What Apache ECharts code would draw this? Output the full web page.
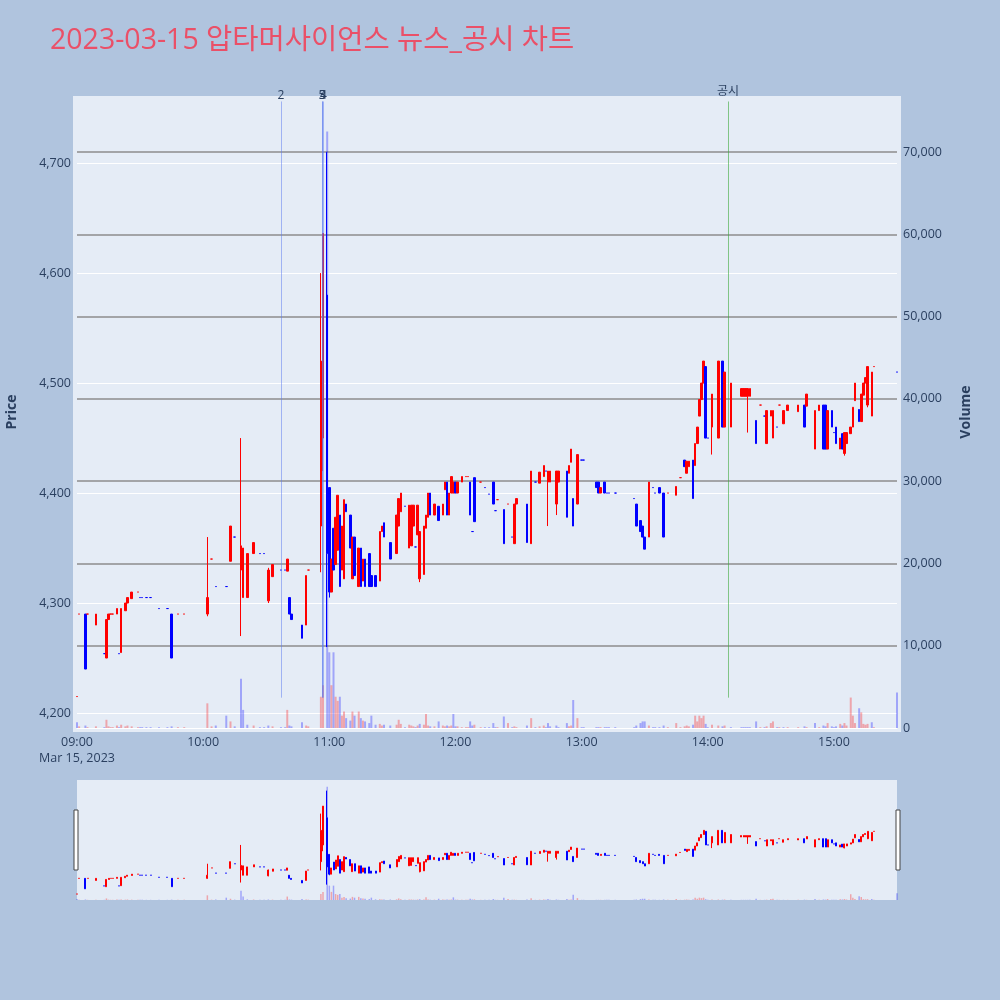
<!DOCTYPE html>
<html><head><meta charset="utf-8">
<script src="https://cdn.jsdelivr.net/npm/echarts@6/dist/echarts.min.js"></script>
<style>html,body{margin:0;padding:0;background:#B0C4DE}#c{width:1000px;height:1000px}</style>
</head><body><div id="c"></div>
<script>
const titleText = '2023-03-15 압타머사이언스 뉴스_공시 차트';
const dateLabel = 'Mar 15, 2023';

const times = [
'09:00','09:01','09:04','09:05','09:09','09:13','09:14','09:15','09:16','09:17',
'09:19','09:20','09:21','09:23','09:24','09:26','09:29','09:30','09:31','09:33',
'09:35','09:39','09:43','09:45','09:48','09:51','10:02','10:04','10:06','10:11',
'10:13','10:15','10:18','10:19','10:21','10:24','10:27','10:29','10:31','10:33',
'10:37','10:39','10:40','10:41','10:42','10:47','10:49','10:50','10:56','10:57',
'10:59','11:00','11:01','11:02','11:03','11:04','11:05','11:06','11:07','11:08',
'11:10','11:11','11:12','11:14','11:15','11:16','11:17','11:19','11:20','11:22',
'11:24','11:25','11:26','11:29','11:32','11:33','11:34','11:36','11:38','11:39',
'11:40','11:41','11:42','11:43','11:45','11:46','11:47','11:48','11:50','11:52',
'11:54','11:55','11:56','11:57','11:58','11:59','12:00','12:01','12:03','12:05',
'12:06','12:07','12:08','12:09','12:12','12:14','12:16','12:18','12:19','12:20',
'12:23','12:25','12:27','12:28','12:29','12:34','12:36','12:38','12:40','12:42',
'12:43','12:44','12:45','12:48','12:49','12:53','12:54','12:55','12:56','12:58',
'13:00','13:01','13:07','13:08','13:09','13:11','13:12','13:13','13:16','13:25',
'13:26','13:28','13:29','13:30','13:32','13:34','13:35','13:37','13:39','13:41',
'13:45','13:47','13:49','13:50','13:51','13:53','13:54','13:55','13:56','13:57',
'13:58','13:59','14:00','14:02','14:05','14:07','14:08','14:11','14:16','14:17',
'14:18','14:19','14:20','14:23','14:25','14:27','14:28','14:30','14:31','14:33',
'14:34','14:36','14:38','14:43','14:46','14:47','14:51','14:53','14:55','14:56',
'14:57','14:59','15:00','15:01','15:03','15:04','15:05','15:06','15:08','15:09',
'15:10','15:12','15:13','15:14','15:15','15:16','15:18','15:19','15:30'
];
const opens = [
4215,4290,4290,4290,4280,4254,4250,4285,4290,4290,
4290,4254,4255,4293,4300,4304,4310,4305,4305,4305,
4305,4295,4295,4290,4290,4290,4290,4340,4315,4315,
4338,4360,4330,4305,4305,4345,4345,4345,4302,4324,
4330,4330,4329,4305,4290,4280,4280,4330,4370,4450,
4580,4405,4310,4368,4335,4348,4380,4330,4322,4390,
4380,4322,4360,4315,4350,4320,4340,4345,4325,4325,
4320,4365,4373,4355,4345,4370,4383,4388,4350,4352,
4370,4351,4362,4322,4326,4368,4378,4400,4380,4388,
4380,4403,4410,4380,4400,4400,4410,4400,4410,4415,
4415,4410,4365,4414,4410,4405,4399,4410,4384,4394,
4385,4390,4360,4354,4390,4390,4354,4410,4409,4415,
4420,4410,4410,4390,4410,4420,4418,4428,4395,4390,
4430,4430,4410,4410,4400,4410,4400,4400,4400,4395,
4390,4375,4370,4360,4360,4405,4400,4405,4400,4400,
4398,4414,4430,4418,4424,4430,4425,4445,4470,4485,
4500,4515,4450,4460,4450,4520,4460,4460,4488,4488,
4488,4488,4488,4466,4480,4470,4445,4470,4450,4460,
4480,4463,4475,4474,4480,4479,4440,4475,4480,4480,
4440,4475,4455,4460,4440,4454,4436,4445,4454,4460,
4484,4476,4465,4489,4500,4480,4470,4515,4510
];
const closes = [
4215,4290,4240,4290,4290,4254,4285,4290,4290,4290,
4295,4254,4295,4300,4305,4310,4310,4305,4305,4305,
4305,4295,4295,4250,4290,4290,4305,4340,4315,4315,
4370,4360,4352,4350,4345,4355,4345,4345,4330,4335,
4330,4330,4340,4290,4285,4268,4325,4330,4520,4636,
4345,4310,4340,4330,4378,4398,4315,4370,4394,4383,
4350,4360,4325,4350,4315,4340,4315,4315,4315,4315,
4365,4370,4360,4340,4380,4395,4400,4388,4389,4389,
4389,4351,4389,4365,4370,4380,4400,4380,4390,4375,
4390,4410,4380,4400,4415,4410,4400,4410,4415,4415,
4415,4380,4365,4374,4410,4405,4399,4390,4384,4394,
4354,4390,4360,4390,4395,4355,4420,4410,4419,4425,
4420,4420,4420,4420,4420,4378,4425,4440,4370,4435,
4430,4430,4405,4400,4405,4400,4400,4400,4400,4395,
4370,4365,4360,4349,4410,4405,4400,4400,4360,4400,
4406,4414,4424,4429,4429,4395,4445,4460,4485,4500,
4520,4450,4450,4490,4520,4460,4510,4500,4495,4495,
4495,4495,4495,4445,4480,4470,4475,4475,4475,4460,
4480,4475,4480,4480,4460,4490,4475,4480,4440,4440,
4475,4460,4455,4445,4450,4440,4455,4455,4460,4478,
4500,4465,4490,4500,4505,4515,4510,4515,4510
];
const lows = [
4215,4290,4240,4290,4280,4254,4250,4285,4290,4290,
4290,4254,4255,4293,4300,4304,4310,4305,4305,4305,
4305,4295,4295,4250,4290,4290,4288,4340,4315,4315,
4338,4360,4270,4305,4305,4345,4345,4345,4300,4324,
4330,4330,4329,4290,4285,4268,4280,4330,4328,4420,
4260,4305,4310,4330,4335,4348,4315,4330,4322,4383,
4350,4322,4325,4315,4315,4320,4315,4315,4315,4315,
4320,4365,4360,4340,4345,4370,4383,4388,4350,4352,
4370,4351,4362,4319,4326,4368,4378,4380,4380,4375,
4380,4403,4380,4380,4400,4400,4400,4400,4410,4415,
4415,4380,4365,4374,4410,4405,4399,4390,4384,4394,
4354,4390,4360,4354,4390,4355,4354,4410,4409,4415,
4420,4370,4410,4380,4410,4378,4418,4428,4370,4390,
4430,4430,4405,4400,4400,4400,4400,4400,4400,4395,
4370,4365,4360,4349,4360,4405,4400,4400,4360,4400,
4398,4414,4424,4418,4424,4395,4425,4445,4470,4485,
4500,4450,4450,4435,4450,4460,4460,4460,4488,4488,
4488,4455,4488,4445,4480,4470,4445,4470,4450,4460,
4480,4463,4475,4474,4460,4479,4440,4475,4440,4440,
4440,4460,4455,4445,4440,4440,4434,4445,4454,4460,
4484,4465,4465,4489,4500,4478,4470,4515,4510
];
const highs = [
4215,4290,4290,4290,4290,4254,4285,4290,4290,4290,
4295,4254,4295,4300,4305,4310,4310,4305,4305,4305,
4305,4295,4295,4290,4290,4290,4360,4340,4315,4315,
4370,4360,4450,4350,4345,4355,4345,4345,4332,4335,
4330,4330,4340,4305,4290,4280,4325,4330,4600,4636,
4710,4405,4340,4368,4378,4398,4380,4370,4394,4390,
4380,4360,4360,4350,4350,4340,4340,4345,4325,4325,
4365,4370,4373,4355,4380,4395,4400,4388,4389,4389,
4389,4351,4389,4365,4370,4380,4400,4400,4390,4388,
4390,4410,4410,4400,4415,4410,4410,4410,4415,4415,
4415,4410,4365,4414,4410,4405,4399,4410,4384,4394,
4385,4390,4360,4390,4395,4390,4420,4410,4419,4425,
4420,4420,4420,4420,4420,4420,4425,4440,4395,4435,
4430,4430,4410,4410,4405,4410,4400,4400,4400,4395,
4390,4375,4370,4360,4410,4405,4400,4405,4400,4400,
4406,4414,4430,4429,4429,4430,4445,4460,4485,4500,
4520,4515,4450,4490,4520,4520,4510,4500,4495,4495,
4495,4495,4495,4466,4480,4470,4475,4475,4475,4460,
4480,4475,4480,4480,4480,4490,4475,4480,4480,4480,
4475,4475,4455,4460,4450,4454,4455,4455,4460,4478,
4500,4476,4490,4500,4505,4515,4510,4515,4510
];
const volumes = [
700,200,300,100,200,100,1000,200,100,100,
300,100,400,200,300,200,100,100,100,100,
100,100,100,200,100,100,3000,200,300,1500,
800,200,6000,2200,400,300,100,100,300,200,
100,100,2200,300,200,700,300,200,3800,5200,
72500,9200,5200,9200,3800,3300,3800,1500,2000,1200,
900,2000,1500,2000,1200,900,800,600,1500,400,
500,300,400,300,400,1000,500,100,400,300,
200,100,300,500,400,1700,300,200,200,800,
300,200,300,200,300,1700,200,200,100,100,
100,800,300,400,100,100,100,600,100,100,
1400,600,100,200,100,300,1200,100,200,300,
100,600,200,300,100,600,200,300,3400,1200,
100,100,100,100,100,100,100,100,100,100,
300,600,800,800,300,100,100,100,300,100,
600,100,200,300,200,400,1500,800,1500,1200,
1500,500,100,400,300,200,300,100,100,100,
100,100,100,800,100,100,200,600,800,100,
100,100,100,100,200,100,600,100,300,200,
600,200,100,200,500,300,600,300,3700,1500,
600,2400,1900,500,400,500,700,100,4300
];

// annotation (news / disclosure) markers
const annoTimes  = ['10:37:00','10:56:30','10:56:50','10:57:10','14:09:36'];
const annoLabels = ['2','5','3','4','공시'];
const annoKinds  = ['news','news','news','news','disclosure'];
const annoLow = 4214, annoHigh = 4756;

// axis ranges
const priceMin = 4186.4, priceMax = 4761;
const volMin = 0, volMax = 76800;
const xMin = 0, xMax = 390;

function toMin(t){ const p=t.split(':').map(Number); return (p[0]-9)*60+p[1]+(p[2]||0)/60; }
function pad(n){ return (n<10?'0':'')+n; }
const fmtNum = v => Math.round(v).toLocaleString('en-US');

const UP='#ff0000', DOWN='#0000ff';
const UPV='rgba(255,0,0,0.3)', DOWNV='rgba(0,0,255,0.3)';

let prevDir = 1, prevVDir = -1;
const candleItems = [], volItems = [], candleItemsS = [], volItemsS = [];
times.forEach((t,i)=>{
  const m = toMin(t), o=opens[i], c=closes[i];
  let d;
  if (c>o) d=1; else if (c<o) d=-1;
  else if (i>0 && c>closes[i-1]) d=1; else if (i>0 && c<closes[i-1]) d=-1; else d=prevDir;
  prevDir=d;
  let vd;
  if (i===0) vd=-1; else if (c>closes[i-1]) vd=1; else if (c<closes[i-1]) vd=-1; else vd=prevVDir;
  prevVDir=vd;
  const col = d>0?UP:DOWN;
  const st = {color:col,color0:col,borderColor:col,borderColor0:col};
  candleItems.push({value:[m,o,c,lows[i],highs[i]], itemStyle:st});
  candleItemsS.push({value:[m,o,c,lows[i],highs[i]], itemStyle:st});
  const vc = vd>0?UPV:DOWNV;
  volItems.push({value:[m,volumes[i]], itemStyle:{color:vc}});
  volItemsS.push({value:[m,volumes[i]], itemStyle:{color:vc}});
});

const FONT = '"Open Sans", "Noto Sans CJK KR", sans-serif';
const TXT = '#2a3f5f';

const annoLines = annoTimes.map((t,i)=>{
  const m = toMin(t);
  const isNews = annoKinds[i]==='news';
  return [
    {coord:[m, annoLow],
     lineStyle:{color: isNews?'rgba(90,120,240,0.5)':'rgba(60,170,60,0.6)', width:1, type:'solid'},
     label:{show:true, position:'end', formatter: annoLabels[i], color:TXT, fontSize:12, fontFamily:FONT, distance: isNews?0:4}},
    {coord:[m, annoHigh]}
  ];
});

const chart = echarts.init(document.getElementById('c'), null, {renderer:'canvas', width:1000, height:1000});
const option = {
  animation:false,
  backgroundColor:'#B0C4DE',
  textStyle:{fontFamily:FONT},
  title:{text:titleText, left:45, top:22, textStyle:{fontSize:28.5, fontWeight:'normal', color:'#ea5068', fontFamily:FONT}},
  graphic:[
    {type:'rect', z:-10, silent:true, shape:{x:73, y:96, width:828, height:636}, style:{fill:'#E5ECF6'}},
    {type:'rect', z:100, silent:true, shape:{x:74, y:810, width:4, height:60}, style:{fill:'#fff', stroke:'#444', lineWidth:1}},
    {type:'rect', z:100, silent:true, shape:{x:896, y:810, width:4, height:60}, style:{fill:'#fff', stroke:'#444', lineWidth:1}}
  ],
  grid:[
    {left:77, top:96, width:820, height:632, show:false, outerBoundsMode:'none'},
    {left:77, top:780, width:820, height:120, show:true, backgroundColor:'#E5ECF6', borderWidth:0, outerBoundsMode:'none'}
  ],
  xAxis:[
    {type:'value', gridIndex:0, min:xMin, max:xMax, interval:60,
     axisLine:{show:true, onZero:false, lineStyle:{color:'#ffffff', width:1}}, axisTick:{show:false}, splitLine:{show:false},
     axisLabel:{color:TXT, fontSize:12.5, margin:6, lineHeight:16, fontFamily:FONT,
       formatter:v=>{ if (Math.abs(v%60)>1e-6) return ''; const h=9+Math.floor(v/60), mm=v%60; const s=pad(h)+':'+pad(mm); return v===0? s+'\n'+dateLabel : s; }}},
    {type:'value', gridIndex:1, min:xMin, max:xMax, show:false}
  ],
  yAxis:[
    {type:'value', gridIndex:0, position:'left', min:priceMin, max:priceMax, splitNumber:5,
     name:'Price', nameLocation:'middle', nameGap:58, nameRotate:90,
     nameTextStyle:{color:TXT, fontSize:14, fontWeight:'bold', fontFamily:FONT},
     axisLine:{show:false}, axisTick:{show:false},
     axisLabel:{color:TXT, fontSize:12.5, margin:6, fontFamily:FONT, formatter:v=> Math.abs(v%100)<1e-6? fmtNum(v):''},
     splitLine:{show:true, showMinLine:false, showMaxLine:false, lineStyle:{color:'#ffffff', width:1}}},
    {type:'value', gridIndex:0, position:'right', min:volMin, max:volMax, splitNumber:8,
     name:'Volume', nameLocation:'middle', nameGap:62, nameRotate:90,
     nameTextStyle:{color:TXT, fontSize:14, fontWeight:'bold', fontFamily:FONT},
     axisLine:{show:false}, axisTick:{show:false},
     axisLabel:{color:TXT, fontSize:12.5, margin:6, fontFamily:FONT, formatter:v=> Math.abs(v%10000)<1e-6? fmtNum(v):''},
     splitLine:{show:true, showMinLine:false, showMaxLine:false, lineStyle:{color:'#8c8c8c', width:1.5}}},
    {type:'value', gridIndex:1, min:priceMin, max:priceMax, show:false},
    {type:'value', gridIndex:1, min:volMin, max:volMax, show:false}
  ],
  series:[
    {type:'bar', name:'Volume', xAxisIndex:0, yAxisIndex:1, barWidth:2, data:volItems, z:1, silent:true},
    {type:'candlestick', name:'Price', xAxisIndex:0, yAxisIndex:0, barWidth:2, encode:{x:0,y:[1,2,3,4]},
     itemStyle:{color:UP,color0:DOWN,borderColor:UP,borderColor0:DOWN,borderWidth:1}, data:candleItems, z:3, silent:true},
    {type:'line', name:'anno', xAxisIndex:0, yAxisIndex:0, data:[[toMin(annoTimes[0]), annoLow]], showSymbol:false, symbol:'none',
     lineStyle:{width:0}, clip:false, z:4, silent:true,
     markLine:{symbol:'none', silent:true, animation:false, data:annoLines}},
    {type:'bar', xAxisIndex:1, yAxisIndex:3, barWidth:1.5, data:volItemsS, z:1, silent:true},
    {type:'candlestick', xAxisIndex:1, yAxisIndex:2, barWidth:1.5, encode:{x:0,y:[1,2,3,4]},
     itemStyle:{color:UP,color0:DOWN,borderColor:UP,borderColor0:DOWN,borderWidth:1}, data:candleItemsS, z:3, silent:true}
  ]
};
chart.setOption(option);
</script>
</body></html>
